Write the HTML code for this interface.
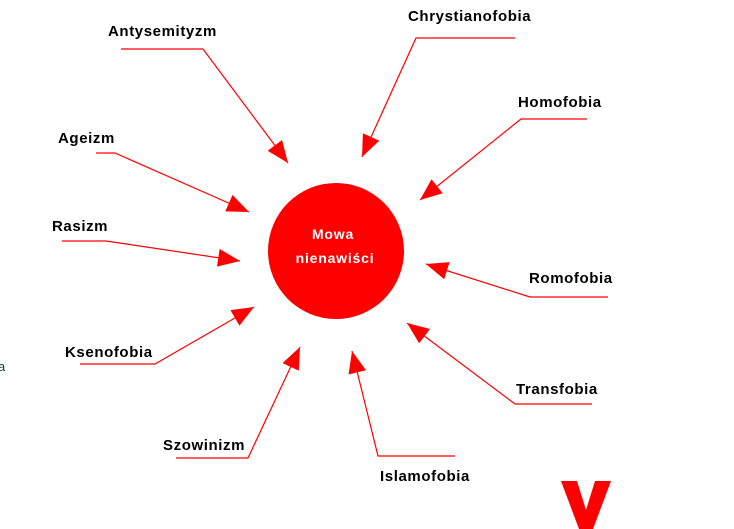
<!DOCTYPE html>
<html><head><meta charset="utf-8"><style>
body{margin:0;background:#fff;width:734px;height:529px;overflow:hidden}
svg{display:block}
text{font-family:"Liberation Sans",sans-serif;font-weight:bold;font-size:15px;letter-spacing:0.6px;fill:#000}
</style></head><body>
<svg width="734" height="529" viewBox="0 0 734 529">
<defs>
<marker id="a" markerUnits="userSpaceOnUse" markerWidth="24" markerHeight="20" refX="22" refY="9" orient="auto">
<path d="M0,0 L22,9 L0,18 Z" fill="#f00"/>
</marker>
</defs>
<g stroke="#f00" stroke-width="1.2" fill="none">
<polyline points="121,49 203,49 288,163" marker-end="url(#a)"/>
<polyline points="515,38 416,38 362,157" marker-end="url(#a)"/>
<polyline points="587,119 521,119 420,200" marker-end="url(#a)"/>
<polyline points="96,153 115,153 249,212" marker-end="url(#a)"/>
<polyline points="62,241 106,241 240,261" marker-end="url(#a)"/>
<polyline points="608,297 530,297 426,264" marker-end="url(#a)"/>
<polyline points="80,364 155,364 254,307" marker-end="url(#a)"/>
<polyline points="592,404 515,404 407,323" marker-end="url(#a)"/>
<polyline points="176,458 248,458 300,347" marker-end="url(#a)"/>
<polyline points="455,456 378,456 352,351" marker-end="url(#a)"/>
</g>
<circle cx="336" cy="251" r="68" fill="#f00"/>
<text x="333" y="239" text-anchor="middle" style="fill:#fff;font-size:14px;letter-spacing:0.8px">Mowa</text>
<text x="335" y="263" text-anchor="middle" style="fill:#fff;font-size:14px;letter-spacing:0.8px">nienawiści</text>
<text x="108" y="36">Antysemityzm</text>
<text x="408" y="21">Chrystianofobia</text>
<text x="518" y="107">Homofobia</text>
<text x="58" y="143">Ageizm</text>
<text x="52" y="231">Rasizm</text>
<text x="529" y="283">Romofobia</text>
<text x="65" y="357">Ksenofobia</text>
<text x="516" y="394">Transfobia</text>
<text x="163" y="450">Szowinizm</text>
<text x="380" y="481">Islamofobia</text>
<text x="-2" y="371" style="font-weight:normal;font-size:13px;letter-spacing:0;fill:#143">a</text>
<polygon points="561,481 577,481 586,510 595,481 611,481 593,529 579,529" fill="#f00"/>
</svg>
</body></html>
